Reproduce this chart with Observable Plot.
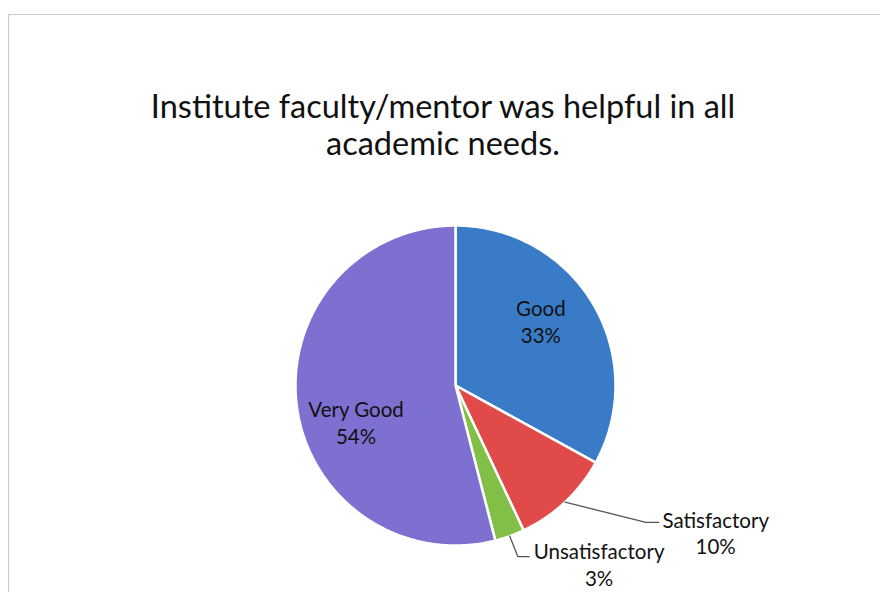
<!DOCTYPE html>
<html>
<head>
<meta charset="utf-8">
<script src="https://cdn.jsdelivr.net/npm/d3@7"></script>
<script src="https://cdn.jsdelivr.net/npm/@observablehq/plot@0.6"></script>
<style>
  html, body { margin: 0; padding: 0; background: #fff; }
  #wrap { position: relative; width: 880px; height: 592px; overflow: hidden; background: #fff; font-family: Lato, "Open Sans", sans-serif; }
  #frame { position: absolute; left: 8px; top: 14px; width: 900px; height: 620px; border: 1px solid #c9c9d2; box-sizing: border-box; }
  #title { position: absolute; left: 0; top: 87px; width: 886px; text-align: center; font-size: 32.5px; line-height: 37px; color: #111; }
  #chart { position: absolute; left: 0; top: 0; }
</style>
</head>
<body>
<div id="wrap">
  <div id="frame"></div>
  <div id="title">Institute faculty/mentor was helpful in all<br>academic needs.</div>
  <div id="chart"></div>
</div>
<script>
const categories = ["Good", "Satisfactory", "Unsatisfactory", "Very Good"];
const percents = [33, 10, 3, 54];
const colors = ["#3a7bc8", "#e04a48", "#82bf47", "#7e70d0"];

// layout (pixel nudges for labels; outside labels get leader lines)
const labelLayout = {
  "Good":           {r: 0.62, dx: 0,  dy: -14, outside: false},
  "Very Good":      {r: 0.62, dx: -1, dy: 24,  outside: false},
  "Satisfactory":   {elbowX: 1.19, elbowY: -0.855, tail: 0.08, outside: true, tdx: 57, tdy: 10},
  "Unsatisfactory": {elbowX: 0.39, elbowY: -1.07,  tail: 0.07, outside: true, tdx: 70, tdy: 7}
};

const arcs = d3.pie().sort(null).value(d => d)(percents);

// slice polygons computed from the pie angles
const poly = [];
arcs.forEach((a, i) => {
  const cat = categories[i];
  poly.push({cat, x: 0, y: 0});
  const n = Math.max(4, Math.ceil((a.endAngle - a.startAngle) / 0.01));
  for (let k = 0; k <= n; k++) {
    const t = a.startAngle + (a.endAngle - a.startAngle) * k / n;
    poly.push({cat, x: Math.sin(t), y: Math.cos(t)});
  }
  poly.push({cat, x: 0, y: 0});
});

const labels = [];
const leaders = [];
arcs.forEach((a, i) => {
  const cat = categories[i];
  const L = labelLayout[cat];
  const mid = (a.startAngle + a.endAngle) / 2;
  const txt = cat + "\n" + percents[i] + "%";
  if (!L.outside) {
    labels.push({x: L.r * Math.sin(mid), y: L.r * Math.cos(mid), text: txt, dx: L.dx, dy: L.dy});
  } else {
    const ex = Math.sin(mid), ey = Math.cos(mid);
    leaders.push({cat, x: ex, y: ey});
    leaders.push({cat, x: L.elbowX, y: L.elbowY});
    leaders.push({cat, x: L.elbowX + L.tail, y: L.elbowY});
    labels.push({x: L.elbowX + L.tail, y: L.elbowY, text: txt, dx: L.tdx, dy: L.tdy});
  }
});

const chart = Plot.plot({
  width: 880,
  height: 592,
  x: {domain: [-1, 1], range: [295, 615], axis: null},
  y: {domain: [-1, 1], range: [545, 225], axis: null},
  color: {domain: categories, range: colors},
  style: {fontFamily: "Lato, 'Open Sans', sans-serif", background: "transparent", overflow: "visible"},
  marks: [
    Plot.line(poly, {x: "x", y: "y", z: "cat", fill: "cat", stroke: "white", strokeWidth: 2.5, strokeLinejoin: "miter"}),
    Plot.line(leaders, {x: "x", y: "y", z: "cat", stroke: "#555", strokeWidth: 1.3}),
    Plot.text(labels, {x: "x", y: "y", text: "text", fontSize: 20.5, fill: "#111", lineHeight: 1.3})
  ]
});
document.getElementById("chart").appendChild(chart);

// apply per-label pixel nudges
const texts = chart.querySelectorAll("g[aria-label='text'] text");
texts.forEach((t, i) => {
  const d = labels[i];
  const tr = t.getAttribute("transform") || "";
  t.setAttribute("transform", tr + ` translate(${d.dx},${d.dy})`);
});
</script>
</body>
</html>
